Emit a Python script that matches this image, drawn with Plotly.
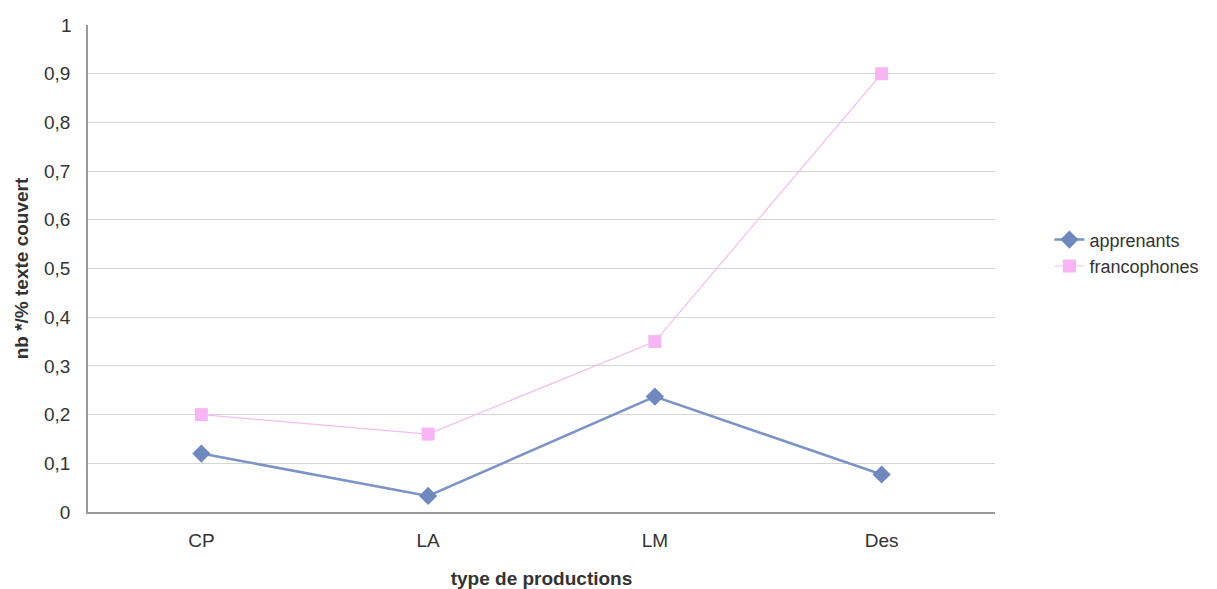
import plotly.graph_objects as go

categories = ["CP", "LA", "LM", "Des"]
apprenants = [0.12, 0.033, 0.237, 0.077]
francophones = [0.2, 0.16, 0.35, 0.9]
y_ticks = [0, 0.1, 0.2, 0.3, 0.4, 0.5, 0.6, 0.7, 0.8, 0.9, 1]
y_labels = ["0", "0,1", "0,2", "0,3", "0,4", "0,5", "0,6", "0,7", "0,8", "0,9", "1"]

FONT = "Liberation Sans, Arial, sans-serif"
TXT = "#333333"

fig = go.Figure()
fig.add_trace(go.Scatter(
    x=categories, y=apprenants, name="apprenants", mode="lines+markers",
    line=dict(color="#7B93C6", width=2.5),
    marker=dict(symbol="diamond", size=14, color="#6F88BE"),
))
fig.add_trace(go.Scatter(
    x=categories, y=francophones, name="francophones", mode="lines+markers",
    line=dict(color="#F2BDEE", width=1.2),
    marker=dict(symbol="square", size=13, color="#F7B5F4"),
))

fig.update_layout(
    width=1209, height=581,
    margin=dict(l=80, r=222, t=17, b=77, autoexpand=False),
    paper_bgcolor="white", plot_bgcolor="white",
    font=dict(family=FONT, size=19, color=TXT),
    xaxis=dict(
        range=[-0.5, 3.5], showgrid=False, showline=True, linecolor="#9a9a9a",
        linewidth=1.5, ticks="", ticklabelstandoff=10, automargin=False,
        tickfont=dict(size=19, color=TXT),
        title=dict(text="<b>type de productions</b>", font=dict(size=19, color=TXT), standoff=26),
    ),
    yaxis=dict(
        range=[0, 1], tickvals=y_ticks[:-1], ticktext=y_labels[:-1], showgrid=True,
        gridcolor="#d6d6d6", gridwidth=1, showline=True, linecolor="#9a9a9a",
        linewidth=1.5, zeroline=False, ticks="", ticklabelstandoff=12, automargin=False,
        tickfont=dict(size=19, color=TXT),
        title=dict(text="<b>nb */% texte couvert</b>", font=dict(size=19, color=TXT), standoff=10),
    ),
    legend=dict(
        x=1.060, y=0.532, xanchor="left", yanchor="middle",
        font=dict(size=18, color=TXT), bgcolor="rgba(0,0,0,0)",
        tracegroupgap=0,
    ),
    annotations=[dict(
        x=0, xref="paper", y=y_ticks[-1], yref="y", text=y_labels[-1],
        xanchor="right", yanchor="middle", xshift=-14, showarrow=False,
        font=dict(size=19, color=TXT),
    )],
)

fig.write_html("out.html")
